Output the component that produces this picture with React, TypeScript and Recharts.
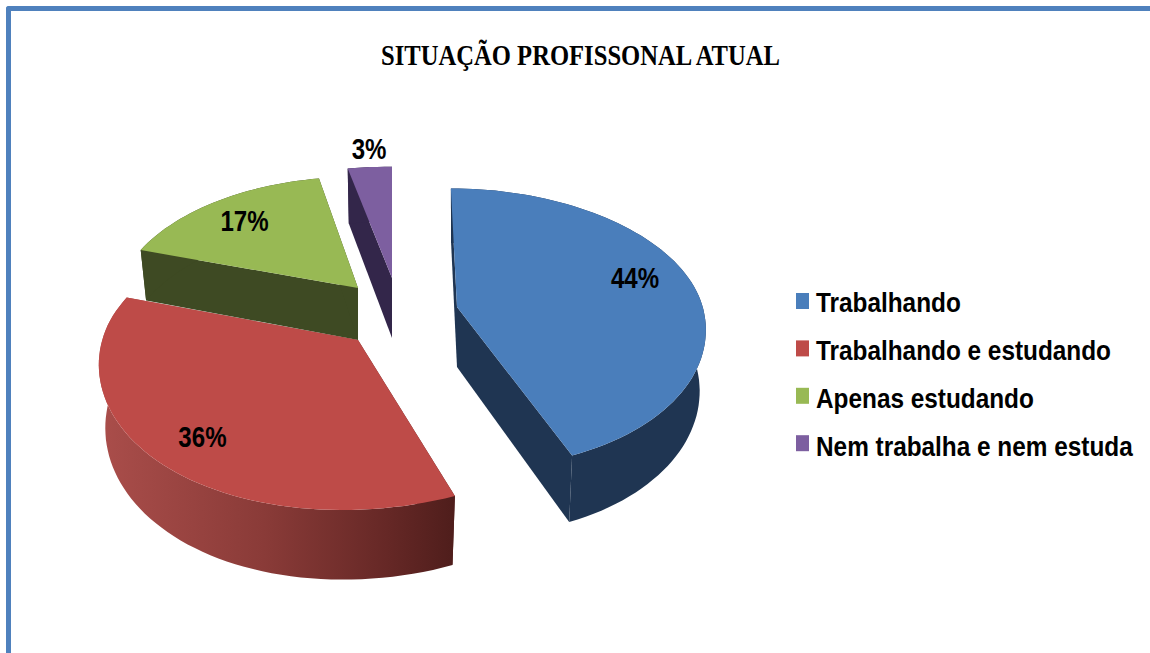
import { PieChart, Pie, Legend } from 'recharts'

const categories = ['Trabalhando', 'Trabalhando e estudando', 'Apenas estudando', 'Nem trabalha e nem estuda']
const shares = [44, 36, 17, 3]
const topColors = ['#4A7EBB', '#BE4B48', '#98B954', '#7D5FA0']
const wallColors = ['#1F3552', 'url(#redWall)', '#3E4A23', '#33264A']

// exploded offset and projection tweaks for each slice
const sliceGeometry = [
  { dx: 57, dy: 7, sx: 0.975, sy: 0.98, shear: 0.065, depth: 60, labelX: 0.76, labelY: 1.2 },
  { dx: -42, dy: 40, sx: 1.015, sy: 1.03, shear: -0.08, depth: 62, labelX: 0.76, labelY: 0.82 },
  { dx: -42, dy: -12, sx: 0.95, sy: 0.92, shear: 0, depth: 52, labelX: 0.8, labelY: 0.78 },
  { dx: -8, dy: -22, sx: 1.08, sy: 0.92, shear: 0, depth: 60, labelX: 1.03, labelY: 1.17 },
]
// the reference text is condensed, no narrow bold font is installed
const LEGEND_STRETCH = 0.87
const LABEL_STRETCH = 0.83

const PERSPECTIVE = 0.154
const ASPECT = 0.554
const chartData = categories.map((name, i) => ({ name, value: shares[i], fill: topColors[i] }))

type Pt = [number, number]

function project(angle: number, radius: number, i: number): Pt {
  const g = sliceGeometry[i]
  const rad = (angle * Math.PI) / 180
  const u = Math.cos(rad)
  const v = -Math.sin(rad)
  const w = 1 - PERSPECTIVE * v
  const y = ((radius * ASPECT * v) / w) * g.sy
  const x = ((radius * u) / w) * g.sx + (g.shear * y * Math.abs(y)) / 150
  return [x, y]
}

function topPoint(cx: number, cy: number, i: number, p: Pt): Pt {
  const g = sliceGeometry[i]
  return [cx + g.dx + p[0], cy + g.dy + p[1]]
}

function bottomPoint(cx: number, cy: number, i: number, p: Pt): Pt {
  const g = sliceGeometry[i]
  return [cx + g.dx + p[0] * 0.975, cy + g.dy + g.depth + p[1] * 1.045]
}

function rim(start: number, end: number, radius: number, i: number): Pt[] {
  const steps = Math.max(4, Math.ceil(Math.abs(end - start) / 2))
  const pts: Pt[] = []
  for (let s = 0; s <= steps; s++) {
    pts.push(project(start + ((end - start) * s) / steps, radius, i))
  }
  return pts
}

const toPath = (pts: Pt[]) => 'M' + pts.map((p) => `${p[0].toFixed(1)},${p[1].toFixed(1)}`).join('L') + 'Z'

function TopFace(props: any) {
  const { cx, cy, startAngle, endAngle, outerRadius, index, fill } = props
  const pts = rim(startAngle, endAngle, outerRadius, index).map((p) => topPoint(cx, cy, index, p))
  pts.push(topPoint(cx, cy, index, [0, 0]))
  return <path d={toPath(pts)} fill={fill} />
}

function WallFace(props: any) {
  const { cx, cy, startAngle, endAngle, outerRadius, index } = props
  const arc = rim(startAngle, endAngle, outerRadius, index)
  const fill = wallColors[index]
  const top = arc.map((p) => topPoint(cx, cy, index, p))
  const bottom = arc.map((p) => bottomPoint(cx, cy, index, p))
  const apexTop = topPoint(cx, cy, index, [0, 0])
  const apexBottom = bottomPoint(cx, cy, index, [0, 0])
  const band = [...top, ...bottom.slice().reverse()]
  const cutA = [apexTop, top[0], bottom[0], apexBottom]
  const cutB = [apexTop, top[top.length - 1], bottom[bottom.length - 1], apexBottom]
  return (
    <g>
      <path d={toPath(cutA)} fill={fill} />
      <path d={toPath(cutB)} fill={fill} />
      <path d={toPath(band)} fill={fill} />
    </g>
  )
}

function sliceLabel(props: any) {
  const { cx, cy, midAngle, outerRadius, index, value } = props
  const g = sliceGeometry[index]
  const p = project(midAngle, outerRadius, index)
  const [x, y] = topPoint(cx, cy, index, [p[0] * g.labelX, p[1] * g.labelY])
  return (
    <text
      transform={`translate(${x} ${y}) scale(${LABEL_STRETCH} 1)`}
      dy="0.36em"
      textAnchor="middle"
      fill="#000"
      fontSize={29}
      fontWeight="bold"
      fontFamily="'Liberation Sans', Arial, sans-serif"
    >
      {value}%
    </text>
  )
}

function LegendList({ payload }: any) {
  // both Pie layers report entries, keep one per category
  const entries = (payload ?? []).filter(
    (e: any, i: number, all: any[]) => all.findIndex((o) => o.value === e.value) === i,
  )
  return (
    <svg width={360} height={200} style={{ display: 'block' }}>
      {entries.map((entry: any, i: number) => (
        <g key={entry.value}>
          <rect x={8} y={13 + i * 47.4} width={13} height={16} fill={topColors[i]} />
          <text
            transform={`translate(28 ${32 + i * 48}) scale(${LEGEND_STRETCH} 1)`}
            fontSize={28}
            fontWeight="bold"
            fontFamily="'Liberation Sans', Arial, sans-serif"
            fill="#000"
          >
            {entry.value}
          </text>
        </g>
      ))}
    </svg>
  )
}

export default function App() {
  return (
    <div style={{ position: 'absolute', left: 0, top: 0, width: 1150, height: 653, background: '#fff', overflow: 'hidden' }}>
      <div
        style={{
          position: 'absolute',
          left: 6,
          top: 6,
          right: 0,
          bottom: 0,
          borderTop: '5px solid #4F81BD',
          borderLeft: '5px solid #4F81BD',
          borderTopLeftRadius: 3,
        }}
      />
      <svg width={1150} height={80} style={{ position: 'absolute', left: 0, top: 0 }}>
        <text
          x={381}
          y={65}
          fontSize={29}
          fontWeight="bold"
          fontFamily="'Liberation Serif', 'Times New Roman', serif"
          fill="#000"
          textLength={399}
          lengthAdjust="spacingAndGlyphs"
        >
          SITUAÇÃO PROFISSONAL ATUAL
        </text>
      </svg>
      <div style={{ position: 'absolute', left: 0, top: 0 }}>
        <PieChart width={1150} height={653} margin={{ top: 0, right: 0, bottom: 0, left: 0 }}>
          <defs>
            <linearGradient id="redWall" gradientUnits="userSpaceOnUse" x1={105} y1={0} x2={457} y2={0}>
              <stop offset="0%" stopColor="#A94D4A" />
              <stop offset="45%" stopColor="#8A3B38" />
              <stop offset="80%" stopColor="#662826" />
              <stop offset="100%" stopColor="#4E1D1B" />
            </linearGradient>
          </defs>
          <Pie
            data={chartData}
            dataKey="value"
            nameKey="name"
            cx={400}
            cy={300}
            outerRadius={252}
            startAngle={90}
            endAngle={-270}
            stroke="none"
            legendType="none"
            shape={WallFace}
            isAnimationActive={false}
          />
          <Pie
            data={chartData}
            dataKey="value"
            nameKey="name"
            cx={400}
            cy={300}
            outerRadius={252}
            startAngle={90}
            endAngle={-270}
            stroke="none"
            legendType="square"
            shape={TopFace}
            label={sliceLabel}
            labelLine={false}
            isAnimationActive={false}
          />
          <Legend
            layout="vertical"
            align="right"
            verticalAlign="top"
            itemSorter={null}
            content={<LegendList />}
            wrapperStyle={{ left: 788, top: 280, width: 360 }}
          />
        </PieChart>
      </div>
    </div>
  )
}
